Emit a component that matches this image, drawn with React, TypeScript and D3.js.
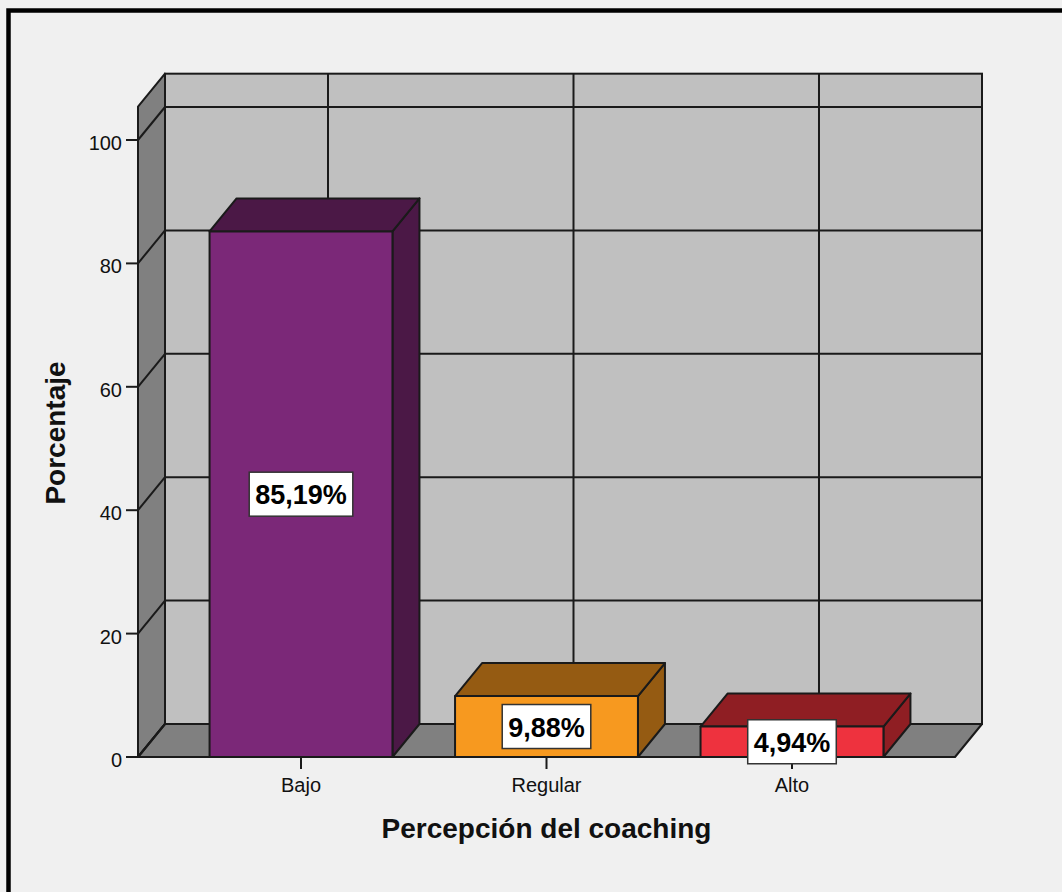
import React, { useEffect, useRef } from 'react';
import * as d3 from 'd3';

// Percepción del coaching – distribution (%)
const categories = ['Bajo', 'Regular', 'Alto'];
const percentages = [85.19, 9.88, 4.94];
const valueLabels = ['85,19%', '9,88%', '4,94%'];
const yTicks = [0, 20, 40, 60, 80, 100];
const frontColors = ['#7B2878', '#F7991F', '#EE323E'];
const shadeColors = ['#4B1846', '#955B12', '#8F1E23'];

const W = 1062;
const H = 892;
const FONT = 'Arial, "Liberation Sans", Helvetica, sans-serif';

export default function App() {
  const ref = useRef<SVGSVGElement | null>(null);

  useEffect(() => {
    const svg = d3.select(ref.current);
    svg.selectAll('*').remove();

    const left = 138;
    const right = 955;
    const base = 757;
    const dx = 27;
    const dy = -33;
    const line = '#1a1a1a';

    const x = d3.scalePoint<string>().domain(categories).range([left, right]).padding(0.664);
    const y = d3.scaleLinear().domain([0, 100]).range([base, 140]);
    const yTop = y(105.4);
    const barW = x.step() * 0.745;

    svg.append('rect').attr('width', W).attr('height', H).attr('fill', '#F0F0F0');
    svg.append('rect')
      .attr('x', 8.5).attr('y', 10.5).attr('width', W + 50).attr('height', H + 50)
      .attr('fill', 'none').attr('stroke', '#000').attr('stroke-width', 4.5);

    const pts = (p: [number, number][]) => p.map((d) => d.join(',')).join(' ');

    // back wall
    svg.append('rect')
      .attr('x', left + dx).attr('y', yTop + dy)
      .attr('width', right - left).attr('height', base - yTop)
      .attr('fill', '#C0C0C0').attr('stroke', line).attr('stroke-width', 2);
    // left wall
    svg.append('polygon')
      .attr('points', pts([[left, yTop], [left + dx, yTop + dy], [left + dx, base + dy], [left, base]]))
      .attr('fill', '#808080').attr('stroke', line).attr('stroke-width', 2).attr('stroke-linejoin', 'round');
    // floor
    svg.append('polygon')
      .attr('points', pts([[left, base], [left + dx, base + dy], [right + dx, base + dy], [right, base]]))
      .attr('fill', '#808080').attr('stroke', line).attr('stroke-width', 2).attr('stroke-linejoin', 'round');

    const grid = svg.append('g').attr('stroke', line).attr('stroke-width', 2).attr('fill', 'none');
    yTicks.forEach((t) => {
      grid.append('line').attr('x1', left + dx).attr('x2', right + dx).attr('y1', y(t) + dy).attr('y2', y(t) + dy);
      grid.append('line').attr('x1', left).attr('x2', left + dx).attr('y1', y(t)).attr('y2', y(t) + dy);
    });
    categories.forEach((c) => {
      const cx = (x(c) as number) + dx;
      grid.append('line').attr('x1', cx).attr('x2', cx).attr('y1', yTop + dy).attr('y2', base + dy);
    });

    // bars
    categories.forEach((c, i) => {
      const cx = x(c) as number;
      const x0 = cx - barW / 2;
      const x1 = cx + barW / 2;
      const yt = y(percentages[i]);
      const g = svg.append('g').attr('stroke', line).attr('stroke-width', 2).attr('stroke-linejoin', 'round');
      g.append('polygon')
        .attr('points', pts([[x1, yt], [x1 + dx, yt + dy], [x1 + dx, base + dy], [x1, base]]))
        .attr('fill', shadeColors[i]);
      g.append('polygon')
        .attr('points', pts([[x0, yt], [x0 + dx, yt + dy], [x1 + dx, yt + dy], [x1, yt]]))
        .attr('fill', shadeColors[i]);
      g.append('rect')
        .attr('x', x0).attr('y', yt).attr('width', barW).attr('height', base - yt)
        .attr('fill', frontColors[i]);
    });

    // y axis ticks + labels
    const ax = svg.append('g');
    yTicks.forEach((t) => {
      ax.append('line').attr('x1', left - 12).attr('x2', left).attr('y1', y(t)).attr('y2', y(t))
        .attr('stroke', line).attr('stroke-width', 2);
      ax.append('text').attr('x', left - 16).attr('y', y(t) + 10)
        .attr('text-anchor', 'end').attr('font-family', FONT).attr('font-size', 20).attr('fill', '#111')
        .text(String(t));
    });
    // x axis ticks + labels
    categories.forEach((c) => {
      const cx = x(c) as number;
      ax.append('line').attr('x1', cx).attr('x2', cx).attr('y1', base).attr('y2', base + 12)
        .attr('stroke', line).attr('stroke-width', 2);
      ax.append('text').attr('x', cx).attr('y', 792)
        .attr('text-anchor', 'middle').attr('font-family', FONT).attr('font-size', 20).attr('fill', '#111')
        .text(c);
    });

    // value labels
    categories.forEach((c, i) => {
      const cx = x(c) as number;
      const cy = (y(percentages[i]) + base) / 2;
      const g = svg.append('g');
      const r = g.append('rect').attr('fill', '#fff').attr('stroke', '#333').attr('stroke-width', 1.5);
      const t = g.append('text').attr('x', cx).attr('y', cy + 10)
        .attr('text-anchor', 'middle').attr('font-family', FONT).attr('font-weight', 'bold')
        .attr('font-size', 27).attr('fill', '#000').text(valueLabels[i]);
      const w = (t.node() as SVGTextElement).getComputedTextLength() + 12;
      r.attr('x', cx - w / 2).attr('y', cy - 22).attr('width', w).attr('height', 44);
    });

    // axis titles
    svg.append('text').attr('x', (left + right) / 2).attr('y', 838)
      .attr('text-anchor', 'middle').attr('font-family', FONT).attr('font-weight', 'bold')
      .attr('font-size', 28).attr('fill', '#111').text('Percepción del coaching');
    svg.append('text').attr('transform', 'translate(65,433) rotate(-90)')
      .attr('text-anchor', 'middle').attr('font-family', FONT).attr('font-weight', 'bold')
      .attr('font-size', 28).attr('fill', '#111').text('Porcentaje');
  }, []);

  return (
    <svg
      ref={ref}
      width={W}
      height={H}
      style={{ position: 'absolute', left: 0, top: 0, display: 'block' }}
    />
  );
}
